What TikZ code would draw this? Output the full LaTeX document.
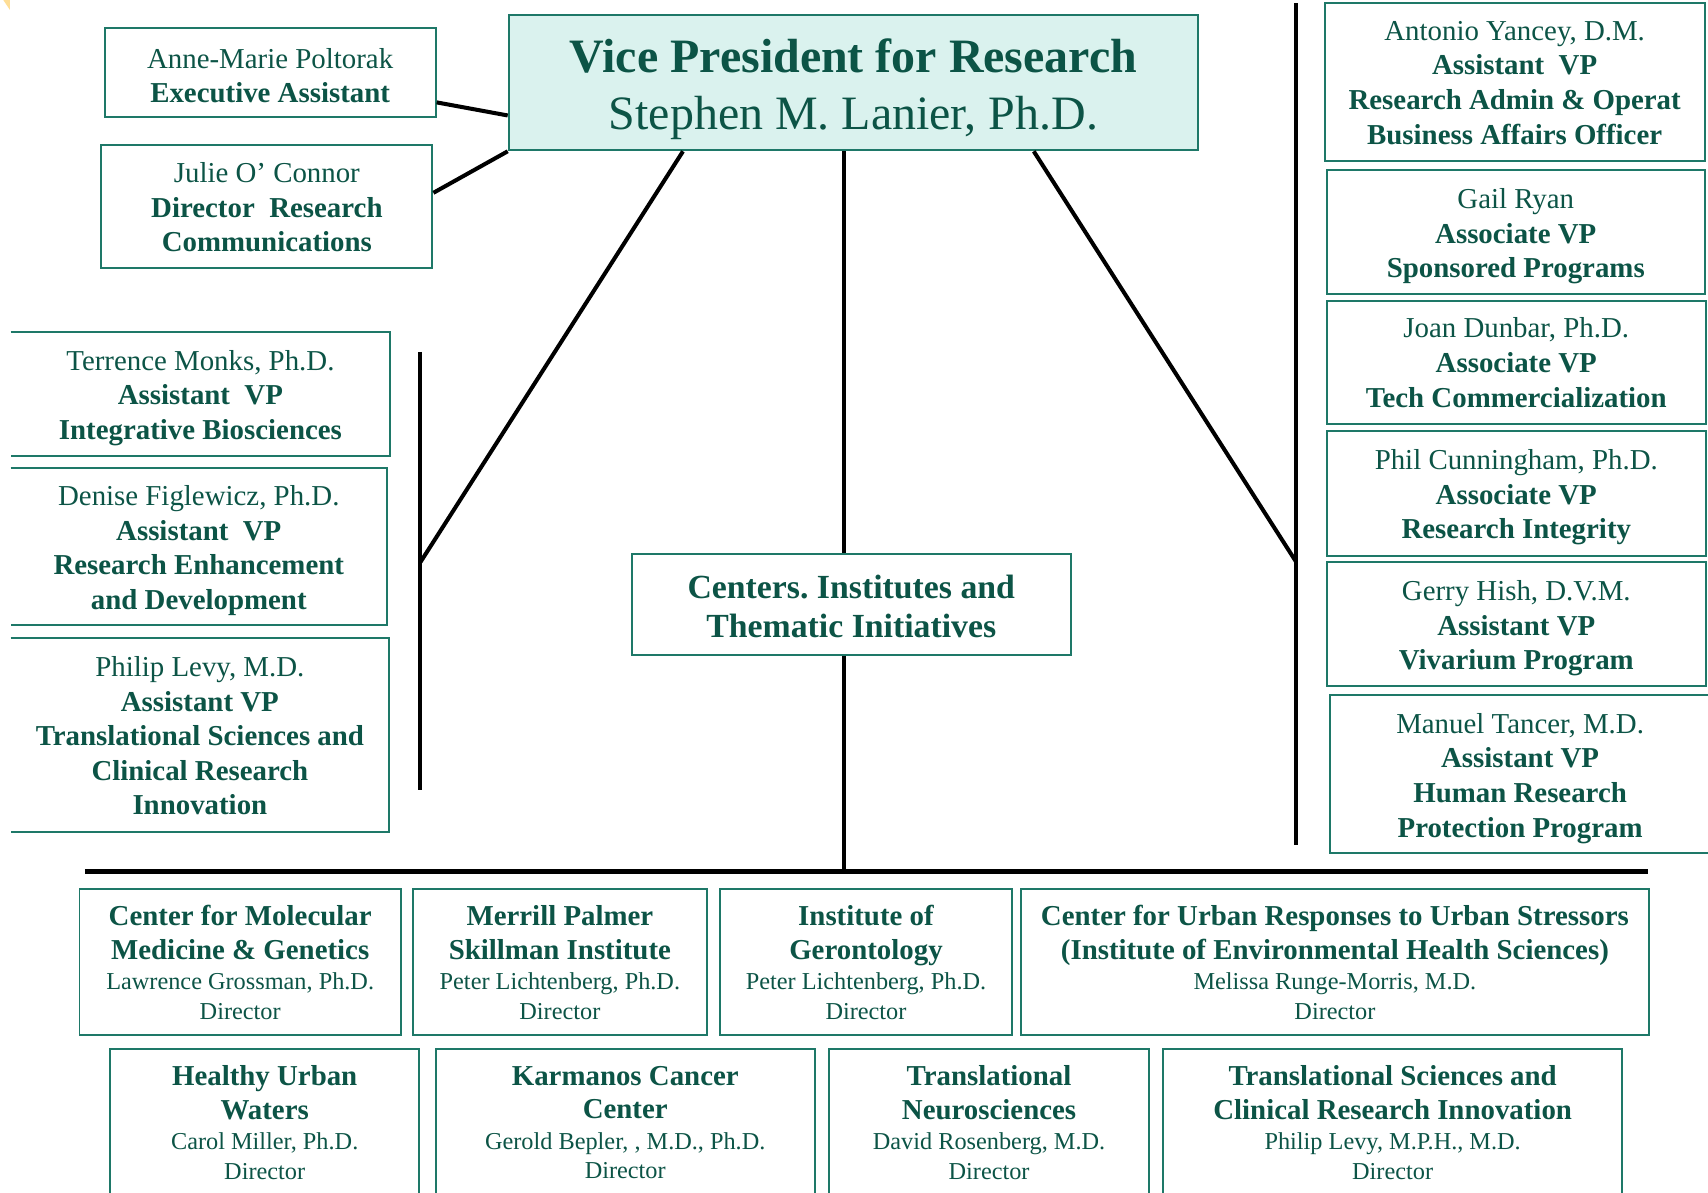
\documentclass[tikz,border=0pt]{standalone}
\usepackage{fontspec}
\setmainfont{Liberation Serif}
\usetikzlibrary{calc}
\frenchspacing
\definecolor{txtgreen}{RGB}{12,84,70}
\definecolor{bordergreen}{RGB}{30,120,104}
\definecolor{vpfill}{RGB}{218,242,238}
\definecolor{cornerorange}{RGB}{254,222,150}
\newcommand{\regline}[1]{{\mdseries\fontsize{22.3}{26}\selectfont #1}}
% #1 style, #2 name, #3 x, #4 y, #5 width, #6 height, #7 text shift down, #8 text
\newcommand{\obox}[8]{%
  \node[#1, minimum width=#5pt, minimum height=#6pt] (#2) at (#3,#4) {};
  \node[#1txt] (#2-t) at ([yshift=-#7pt]#2.center) {#8};}
\begin{document}
\begin{tikzpicture}[x=1pt,y=-1pt,
  orgbox/.style={draw=bordergreen, line width=1.8pt, inner sep=0pt},
  openbox/.style={inner sep=0pt},
  unitbox/.style={draw=bordergreen, line width=1.8pt, inner sep=0pt},
  centbox/.style={draw=bordergreen, line width=1.8pt, inner sep=0pt},
  vpbox/.style={draw=bordergreen, line width=1.8pt, fill=vpfill, inner sep=0pt},
  basetxt/.style={inner sep=0pt, align=center, text=txtgreen, execute at begin node=\frenchspacing},
  orgboxtxt/.style={basetxt, font=\fontsize{26.5}{31.8}\selectfont},
  openboxtxt/.style={basetxt, font=\fontsize{26.5}{31.8}\selectfont},
  unitboxtxt/.style={basetxt, font=\fontsize{26.5}{31}\selectfont\bfseries},
  centboxtxt/.style={basetxt, font=\fontsize{31}{36}\selectfont\bfseries},
  vpboxtxt/.style={basetxt, font=\fontsize{44}{53}\selectfont},
  conn/.style={line width=3.7pt, line cap=butt},
  busline/.style={line width=4.6pt},
  sideedge/.style={draw=bordergreen, line width=1.8pt}
]
\useasboundingbox (0,0) rectangle (1568,1095);
\fill[white] (0,0) rectangle (1568,1095);
\fill[cornerorange] (3,0) -- (9,0) -- (9,9) -- cycle;

% Vice president
\obox{vpbox}{vp}{783.5}{76}{633}{124}{6}
  {\textbf{Vice President for Research}\\Stephen M. Lanier, Ph.D.}

% top-left staff
\obox{orgbox}{anne}{248}{66.5}{304}{81}{3}
  {Anne-Marie Poltorak\\\textbf{Executive Assistant}}
\obox{orgbox}{julie}{245}{189.5}{304}{113}{1}
  {Julie O’ Connor\\\textbf{Director~~Research}\\\textbf{Communications}}

% left column (left side open)
\obox{openbox}{terr}{184}{361.5}{348}{113}{4}
  {Terrence Monks, Ph.D.\\\textbf{Assistant~~VP}\\\textbf{Integrative Biosciences}}
\obox{openbox}{den}{182.5}{502}{345}{144}{3.5}
  {Denise Figlewicz, Ph.D.\\\textbf{Assistant~~VP}\\\textbf{Research Enhancement}\\\textbf{and Development}}
\obox{openbox}{phil}{183.5}{675}{347}{178}{0.5}
  {Philip Levy, M.D.\\\textbf{Assistant VP}\\\textbf{Translational Sciences and}\\\textbf{Clinical Research}\\\textbf{Innovation}}
\foreach \n in {terr,den,phil}
  \draw[sideedge] (\n.north west) -- (\n.north east) -- (\n.south east) -- (\n.south west);

% right column
\obox{orgbox}{ant}{1390.5}{75.5}{349}{145}{0.5}
  {Antonio Yancey, D.M.\\\textbf{Assistant~~VP}\\\textbf{Research Admin \& Operat}\\\textbf{Business Affairs Officer}}
\obox{orgbox}{gail}{1391.5}{213}{347}{114}{4}
  {Gail Ryan\\\textbf{Associate VP}\\\textbf{Sponsored Programs}}
\obox{orgbox}{joan}{1392}{332.5}{348}{113}{0.5}
  {Joan Dunbar, Ph.D.\\\textbf{Associate VP}\\\textbf{Tech Commercialization}}
\obox{orgbox}{philc}{1392}{453}{348}{114}{3.5}
  {Phil Cunningham, Ph.D.\\\textbf{Associate VP}\\\textbf{Research Integrity}}
\obox{orgbox}{gerry}{1392}{573}{348}{114}{4}
  {Gerry Hish, D.V.M.\\\textbf{Assistant VP}\\\textbf{Vivarium Program}}
\obox{orgbox}{man}{1395.5}{710.5}{349}{145}{4}
  {Manuel Tancer, M.D.\\\textbf{Assistant VP}\\\textbf{Human Research}\\\textbf{Protection Program}}

% centers
\obox{centbox}{centers}{781.5}{555}{403}{92}{2}
  {Centers. Institutes and\\Thematic Initiatives}

% bottom row 1
\obox{unitbox}{b1}{220.5}{883}{295}{134}{0.5}
  {Center for Molecular\\Medicine \& Genetics\\[-3pt]\regline{Lawrence Grossman, Ph.D.}\\[-4pt]\regline{Director}}
\obox{unitbox}{b2}{514}{883}{270}{134}{0.5}
  {Merrill Palmer\\Skillman Institute\\[-3pt]\regline{Peter Lichtenberg, Ph.D.}\\[-4pt]\regline{Director}}
\obox{unitbox}{b3}{795}{883}{268}{134}{0.5}
  {Institute of\\Gerontology\\[-3pt]\regline{Peter Lichtenberg, Ph.D.}\\[-4pt]\regline{Director}}
\obox{unitbox}{b4}{1225.5}{883}{577}{134}{0.5}
  {Center for Urban Responses to Urban Stressors\\(Institute of Environmental Health Sciences)\\[-3pt]\regline{Melissa Runge-Morris, M.D.}\\[-4pt]\regline{Director}}

% bottom row 2
\obox{unitbox}{c1}{243}{1030}{284}{134}{0.5}
  {Healthy Urban\\Waters\\[-3pt]\regline{Carol Miller, Ph.D.}\\[-4pt]\regline{Director}}
\obox{unitbox}{c2}{574}{1030}{348}{134}{0.5}
  {Karmanos Cancer\\Center\\[-3pt]\regline{Gerold Bepler, , M.D., Ph.D.}\\[-4pt]\regline{Director}}
\obox{unitbox}{c3}{908}{1030}{294}{134}{0.5}
  {Translational\\Neurosciences\\[-3pt]\regline{David Rosenberg, M.D.}\\[-4pt]\regline{Director}}
\obox{unitbox}{c4}{1278.5}{1030}{421}{134}{0.5}
  {Translational Sciences and\\Clinical Research Innovation\\[-3pt]\regline{Philip Levy, M.P.H., M.D.}\\[-4pt]\regline{Director}}

% bars and bus
\coordinate (lbtop) at (386,323);
\coordinate (lbmid) at (386,516);
\coordinate (lbbot) at (386,725);
\coordinate (rbtop) at (1190,3);
\coordinate (rbmid) at (1190,516);
\coordinate (rbbot) at (1190,776);
\coordinate (busL) at (78,800);
\coordinate (busR) at (1513,800);
\coordinate (cline) at (775,800);

\draw[conn] (lbtop) -- (lbbot);
\draw[conn] (rbtop) -- (rbbot);
\draw[busline] (busL) -- (busR);

% connectors
\draw[conn] ([yshift=-27.5pt]anne.east) -- ([yshift=-30pt]vp.west);
\draw[conn] ([yshift=12.5pt]julie.east) -- (vp.south west);
\draw[conn] ([xshift=-156.5pt]vp.south) -- (lbmid);
\draw[conn] ([xshift=165.5pt]vp.south) -- (rbmid);
\draw[conn] (vp.south -| cline) -- (centers.north -| cline);
\draw[conn] (centers.south -| cline) -- (cline);
\end{tikzpicture}
\end{document}
